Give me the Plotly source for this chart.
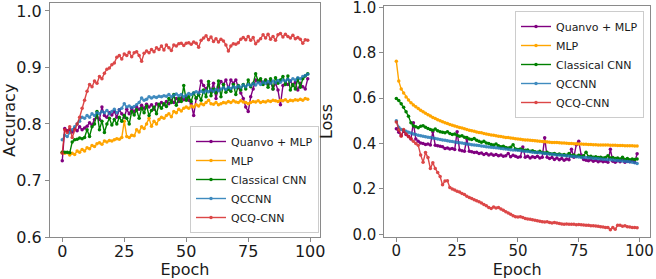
import plotly.graph_objects as go

epochs = list(range(100))
names = ["Quanvo + MLP", "MLP", "Classical CNN", "QCCNN", "QCQ-CNN"]
colors = ["#800080", "#FFA500", "#008000", "#1f77b4", "#d62728"]

acc_quanvo = [0.735, 0.792, 0.788, 0.790, 0.786, 0.792, 0.788, 0.795, 0.790, 0.793,
              0.796, 0.802, 0.798, 0.808, 0.812, 0.808, 0.830, 0.815, 0.812, 0.820,
              0.816, 0.822, 0.812, 0.825, 0.818, 0.812, 0.826, 0.818, 0.828, 0.822,
              0.830, 0.826, 0.833, 0.828, 0.835, 0.830, 0.834, 0.826, 0.836, 0.832,
              0.838, 0.834, 0.840, 0.836, 0.842, 0.838, 0.845, 0.840, 0.846, 0.843,
              0.848, 0.842, 0.836, 0.815, 0.845, 0.852, 0.876, 0.868, 0.862, 0.870,
              0.858, 0.872, 0.845, 0.866, 0.875, 0.870, 0.878, 0.862, 0.878, 0.872,
              0.878, 0.865, 0.855, 0.845, 0.830, 0.822, 0.848, 0.862, 0.878, 0.875,
              0.876, 0.874, 0.878, 0.870, 0.875, 0.862, 0.872, 0.860, 0.834, 0.868,
              0.872, 0.870, 0.876, 0.868, 0.874, 0.860, 0.872, 0.866, 0.862, 0.880]
acc_mlp = [0.750, 0.748, 0.749, 0.745, 0.748, 0.746, 0.752, 0.750, 0.755, 0.752,
           0.758, 0.756, 0.762, 0.760, 0.765, 0.767, 0.764, 0.770, 0.768, 0.771,
           0.770, 0.772, 0.774, 0.773, 0.776, 0.805, 0.778, 0.776, 0.780, 0.779,
           0.790, 0.786, 0.795, 0.792, 0.800, 0.810, 0.796, 0.805, 0.800, 0.808,
           0.812, 0.810, 0.815, 0.818, 0.813, 0.822, 0.820, 0.826, 0.823, 0.828,
           0.830, 0.828, 0.832, 0.830, 0.834, 0.832, 0.836, 0.834, 0.838, 0.842,
           0.836, 0.835, 0.838, 0.834, 0.836, 0.838, 0.837, 0.840, 0.838, 0.841,
           0.839, 0.838, 0.841, 0.839, 0.838, 0.836, 0.838, 0.840, 0.839, 0.841,
           0.838, 0.840, 0.839, 0.841, 0.840, 0.842, 0.841, 0.840, 0.842, 0.841,
           0.843, 0.840, 0.842, 0.841, 0.843, 0.842, 0.844, 0.842, 0.845, 0.844]
acc_cnn = [0.750, 0.750, 0.750, 0.749, 0.768, 0.772, 0.773, 0.775, 0.774, 0.776,
           0.790, 0.778, 0.795, 0.800, 0.822, 0.790, 0.805, 0.785, 0.800, 0.810,
           0.798, 0.808, 0.800, 0.812, 0.805, 0.815, 0.810, 0.800, 0.822, 0.816,
           0.825, 0.810, 0.828, 0.820, 0.832, 0.815, 0.824, 0.830, 0.818, 0.835,
           0.828, 0.836, 0.831, 0.845, 0.838, 0.852, 0.833, 0.845, 0.840, 0.868,
           0.842, 0.848, 0.840, 0.855, 0.846, 0.852, 0.842, 0.860, 0.848, 0.875,
           0.850, 0.862, 0.855, 0.876, 0.848, 0.870, 0.856, 0.862, 0.858, 0.870,
           0.852, 0.868, 0.860, 0.870, 0.862, 0.878, 0.866, 0.872, 0.889, 0.876,
           0.880, 0.870, 0.878, 0.865, 0.880, 0.862, 0.882, 0.872, 0.878, 0.884,
           0.870, 0.885, 0.860, 0.870, 0.862, 0.880, 0.865, 0.880, 0.885, 0.889]
acc_qccnn = [0.772, 0.780, 0.778, 0.785, 0.790, 0.795, 0.800, 0.805, 0.812, 0.810,
             0.815, 0.812, 0.818, 0.815, 0.820, 0.818, 0.822, 0.820, 0.824, 0.818,
             0.822, 0.826, 0.820, 0.825, 0.828, 0.836, 0.830, 0.832, 0.829, 0.831,
             0.834, 0.838, 0.846, 0.842, 0.844, 0.848, 0.846, 0.848, 0.847, 0.849,
             0.848, 0.850, 0.849, 0.852, 0.848, 0.851, 0.853, 0.850, 0.852, 0.848,
             0.851, 0.854, 0.852, 0.855, 0.857, 0.855, 0.858, 0.856, 0.859, 0.857,
             0.860, 0.858, 0.861, 0.859, 0.862, 0.864, 0.861, 0.865, 0.863, 0.866,
             0.864, 0.867, 0.865, 0.869, 0.866, 0.870, 0.868, 0.871, 0.869, 0.873,
             0.870, 0.874, 0.872, 0.875, 0.872, 0.876, 0.873, 0.877, 0.874, 0.878,
             0.876, 0.879, 0.876, 0.880, 0.878, 0.882, 0.880, 0.884, 0.886, 0.888]
acc_qcq = [0.748, 0.790, 0.785, 0.795, 0.776, 0.790, 0.800, 0.812, 0.828, 0.842,
           0.858, 0.870, 0.866, 0.876, 0.872, 0.884, 0.880, 0.890, 0.897, 0.899,
           0.905, 0.908, 0.918, 0.921, 0.915, 0.924, 0.921, 0.927, 0.919, 0.926,
           0.928, 0.921, 0.911, 0.925, 0.929, 0.926, 0.932, 0.928, 0.935, 0.932,
           0.938, 0.931, 0.940, 0.935, 0.930, 0.940, 0.938, 0.942, 0.943, 0.939,
           0.943, 0.944, 0.941, 0.945, 0.943, 0.936, 0.948, 0.952, 0.956, 0.949,
           0.954, 0.946, 0.951, 0.945, 0.950, 0.947, 0.940, 0.929, 0.938, 0.942,
           0.941, 0.944, 0.950, 0.953, 0.949, 0.955, 0.948, 0.953, 0.942, 0.947,
           0.951, 0.958, 0.952, 0.959, 0.950, 0.955, 0.948, 0.958, 0.960, 0.954,
           0.959, 0.955, 0.952, 0.957, 0.951, 0.953, 0.950, 0.943, 0.949, 0.948]

loss_quanvo = [0.465, 0.450, 0.435, 0.455, 0.440, 0.432, 0.420, 0.492, 0.420, 0.410,
               0.402, 0.400, 0.396, 0.398, 0.394, 0.452, 0.392, 0.390, 0.388, 0.386,
               0.378, 0.380, 0.376, 0.378, 0.374, 0.452, 0.372, 0.368, 0.366, 0.420,
               0.366, 0.364, 0.360, 0.362, 0.356, 0.358, 0.352, 0.356, 0.350, 0.354,
               0.348, 0.352, 0.346, 0.350, 0.344, 0.346, 0.356, 0.342, 0.348, 0.344,
               0.340, 0.342, 0.385, 0.340, 0.344, 0.336, 0.342, 0.338, 0.344, 0.336,
               0.340, 0.425, 0.340, 0.334, 0.338, 0.330, 0.336, 0.328, 0.334, 0.326,
               0.332, 0.328, 0.375, 0.340, 0.395, 0.410, 0.350, 0.330, 0.326, 0.324,
               0.328, 0.322, 0.326, 0.320, 0.324, 0.320, 0.322, 0.318, 0.375, 0.322,
               0.318, 0.324, 0.320, 0.330, 0.318, 0.322, 0.320, 0.326, 0.318, 0.355]
loss_mlp = [0.762, 0.675, 0.640, 0.622, 0.605, 0.592, 0.580, 0.570, 0.562, 0.554,
            0.546, 0.540, 0.533, 0.527, 0.521, 0.515, 0.510, 0.505, 0.500, 0.496,
            0.492, 0.488, 0.484, 0.480, 0.477, 0.474, 0.471, 0.468, 0.465, 0.462,
            0.459, 0.456, 0.454, 0.451, 0.449, 0.447, 0.444, 0.442, 0.440, 0.438,
            0.436, 0.434, 0.432, 0.431, 0.429, 0.427, 0.426, 0.424, 0.423, 0.421,
            0.420, 0.419, 0.417, 0.416, 0.415, 0.414, 0.413, 0.412, 0.411, 0.410,
            0.409, 0.408, 0.407, 0.406, 0.405, 0.405, 0.404, 0.403, 0.402, 0.402,
            0.401, 0.400, 0.400, 0.399, 0.399, 0.398, 0.398, 0.397, 0.397, 0.396,
            0.396, 0.395, 0.395, 0.394, 0.394, 0.393, 0.393, 0.393, 0.392, 0.392,
            0.392, 0.391, 0.391, 0.391, 0.390, 0.390, 0.390, 0.390, 0.389, 0.389]
loss_cnn = [0.598, 0.590, 0.575, 0.560, 0.540, 0.520, 0.492, 0.478, 0.474, 0.470,
            0.476, 0.478, 0.472, 0.466, 0.462, 0.458, 0.464, 0.456, 0.452, 0.450,
            0.448, 0.452, 0.444, 0.440, 0.442, 0.436, 0.432, 0.434, 0.428, 0.426,
            0.420, 0.418, 0.422, 0.414, 0.410, 0.406, 0.410, 0.402, 0.400, 0.396,
            0.394, 0.398, 0.390, 0.386, 0.388, 0.382, 0.380, 0.384, 0.395, 0.376,
            0.374, 0.376, 0.372, 0.370, 0.372, 0.366, 0.368, 0.364, 0.362, 0.366,
            0.360, 0.358, 0.362, 0.356, 0.354, 0.356, 0.352, 0.354, 0.350, 0.352,
            0.348, 0.356, 0.346, 0.350, 0.344, 0.348, 0.342, 0.346, 0.362, 0.342,
            0.344, 0.340, 0.342, 0.338, 0.340, 0.336, 0.338, 0.346, 0.336, 0.338,
            0.334, 0.336, 0.332, 0.340, 0.330, 0.334, 0.328, 0.332, 0.330, 0.332]
loss_qccnn = [0.500, 0.472, 0.462, 0.458, 0.454, 0.450, 0.446, 0.442, 0.440, 0.436,
              0.434, 0.432, 0.430, 0.428, 0.426, 0.424, 0.422, 0.420, 0.418, 0.416,
              0.414, 0.412, 0.410, 0.409, 0.407, 0.405, 0.403, 0.402, 0.400, 0.398,
              0.397, 0.395, 0.394, 0.392, 0.391, 0.389, 0.388, 0.386, 0.385, 0.384,
              0.382, 0.381, 0.380, 0.378, 0.377, 0.376, 0.375, 0.373, 0.372, 0.371,
              0.370, 0.369, 0.367, 0.366, 0.365, 0.364, 0.362, 0.361, 0.360, 0.359,
              0.358, 0.356, 0.355, 0.354, 0.353, 0.352, 0.350, 0.349, 0.348, 0.347,
              0.346, 0.345, 0.344, 0.343, 0.342, 0.341, 0.340, 0.339, 0.338, 0.337,
              0.336, 0.335, 0.334, 0.333, 0.332, 0.331, 0.330, 0.329, 0.328, 0.327,
              0.326, 0.325, 0.324, 0.323, 0.322, 0.321, 0.320, 0.318, 0.315, 0.312]
loss_qcq = [0.495, 0.460, 0.432, 0.462, 0.442, 0.430, 0.422, 0.410, 0.400, 0.392,
            0.350, 0.318, 0.360, 0.338, 0.290, 0.315, 0.290, 0.272, 0.255, 0.218,
            0.235, 0.236, 0.206, 0.200, 0.195, 0.190, 0.186, 0.180, 0.175, 0.168,
            0.162, 0.158, 0.152, 0.148, 0.144, 0.138, 0.132, 0.126, 0.118, 0.114,
            0.120, 0.116, 0.118, 0.112, 0.106, 0.100, 0.094, 0.088, 0.082, 0.078,
            0.076, 0.078, 0.074, 0.070, 0.068, 0.066, 0.064, 0.062, 0.060, 0.058,
            0.056, 0.054, 0.055, 0.052, 0.050, 0.052, 0.050, 0.048, 0.046, 0.045,
            0.046, 0.044, 0.045, 0.044, 0.042, 0.043, 0.042, 0.041, 0.040, 0.040,
            0.038, 0.038, 0.037, 0.036, 0.034, 0.032, 0.030, 0.030, 0.020, 0.030,
            0.022, 0.040, 0.040, 0.036, 0.038, 0.034, 0.032, 0.030, 0.030, 0.029]

acc_series = [acc_quanvo, acc_mlp, acc_cnn, acc_qccnn, acc_qcq]
loss_series = [loss_quanvo, loss_mlp, loss_cnn, loss_qccnn, loss_qcq]
opac = [1.0, 1.0, 1.0, 0.85, 0.85]

fig = go.Figure()
for name, col, op, ys in zip(names, colors, opac, acc_series):
    fig.add_trace(go.Scatter(x=epochs, y=ys, name=name, mode="lines+markers",
                             line=dict(color=col, width=1.4), marker=dict(color=col, size=3.5),
                             opacity=op, xaxis="x", yaxis="y", legend="legend"))
for name, col, op, ys in zip(names, colors, opac, loss_series):
    fig.add_trace(go.Scatter(x=epochs, y=ys, name=name, mode="lines+markers",
                             line=dict(color=col, width=1.4), marker=dict(color=col, size=3.5),
                             opacity=op, xaxis="x2", yaxis="y2", legend="legend2"))

W, H = 656, 279


def axstyle(size):
    return dict(showgrid=False, zeroline=False, showline=True, mirror=True, automargin=False,
                linecolor="#8a8a8a", linewidth=1, ticks="outside", ticklen=4,
                tickcolor="#8a8a8a", ticklabeloverflow="allow",
                tickfont=dict(family="DejaVu Sans", size=size, color="#1a1a1a"))


title_font = dict(family="DejaVu Sans", size=16, color="#1a1a1a")

legend_common = dict(font=dict(family="DejaVu Sans", size=11, color="#1a1a1a"),
                     bgcolor="rgba(255,255,255,0.85)", bordercolor="#cccccc", borderwidth=1,
                     tracegroupgap=0, itemwidth=30)

fig.update_layout(
    width=W, height=H, margin=dict(l=0, r=0, t=0, b=0),
    paper_bgcolor="white", plot_bgcolor="white", showlegend=True,
    xaxis=dict(axstyle(16), domain=[50 / W, 320 / W], range=[-4.95, 103.95],
               tickvals=[0, 25, 50, 75, 100], anchor="y", ticklabelstandoff=-4,
               title=dict(text="Epoch", font=title_font)),
    yaxis=dict(axstyle(16), domain=[(H - 237) / H, (H - 3.3) / H], range=[0.6, 1.0136],
               tickvals=[0.6, 0.7, 0.8, 0.9, 1.0], tickformat=".1f", anchor="x",
               title=dict(text="Accuracy", font=title_font)),
    xaxis2=dict(axstyle(15), domain=[384.3 / W, 650 / W], range=[-4.95, 104.3],
                tickvals=[0, 25, 50, 75, 100], anchor="y2", ticklabelstandoff=-4,
                title=dict(text="Epoch", font=title_font)),
    yaxis2=dict(axstyle(15), domain=[(H - 237.3) / H, (H - 5.7) / H], range=[-0.013, 1.007],
                tickvals=[0.0, 0.2, 0.4, 0.6, 0.8, 1.0], tickformat=".1f", anchor="x2",
                title=dict(text="Loss", font=title_font)),
    legend=dict(legend_common, x=319 / W, xanchor="right", y=(H - 233) / H, yanchor="bottom"),
    legend2=dict(legend_common, x=644 / W, xanchor="right", y=(H - 11) / H, yanchor="top"),
)

fig.write_html("out.html", config={"displayModeBar": False},
               post_script="document.body.style.margin='0';")
